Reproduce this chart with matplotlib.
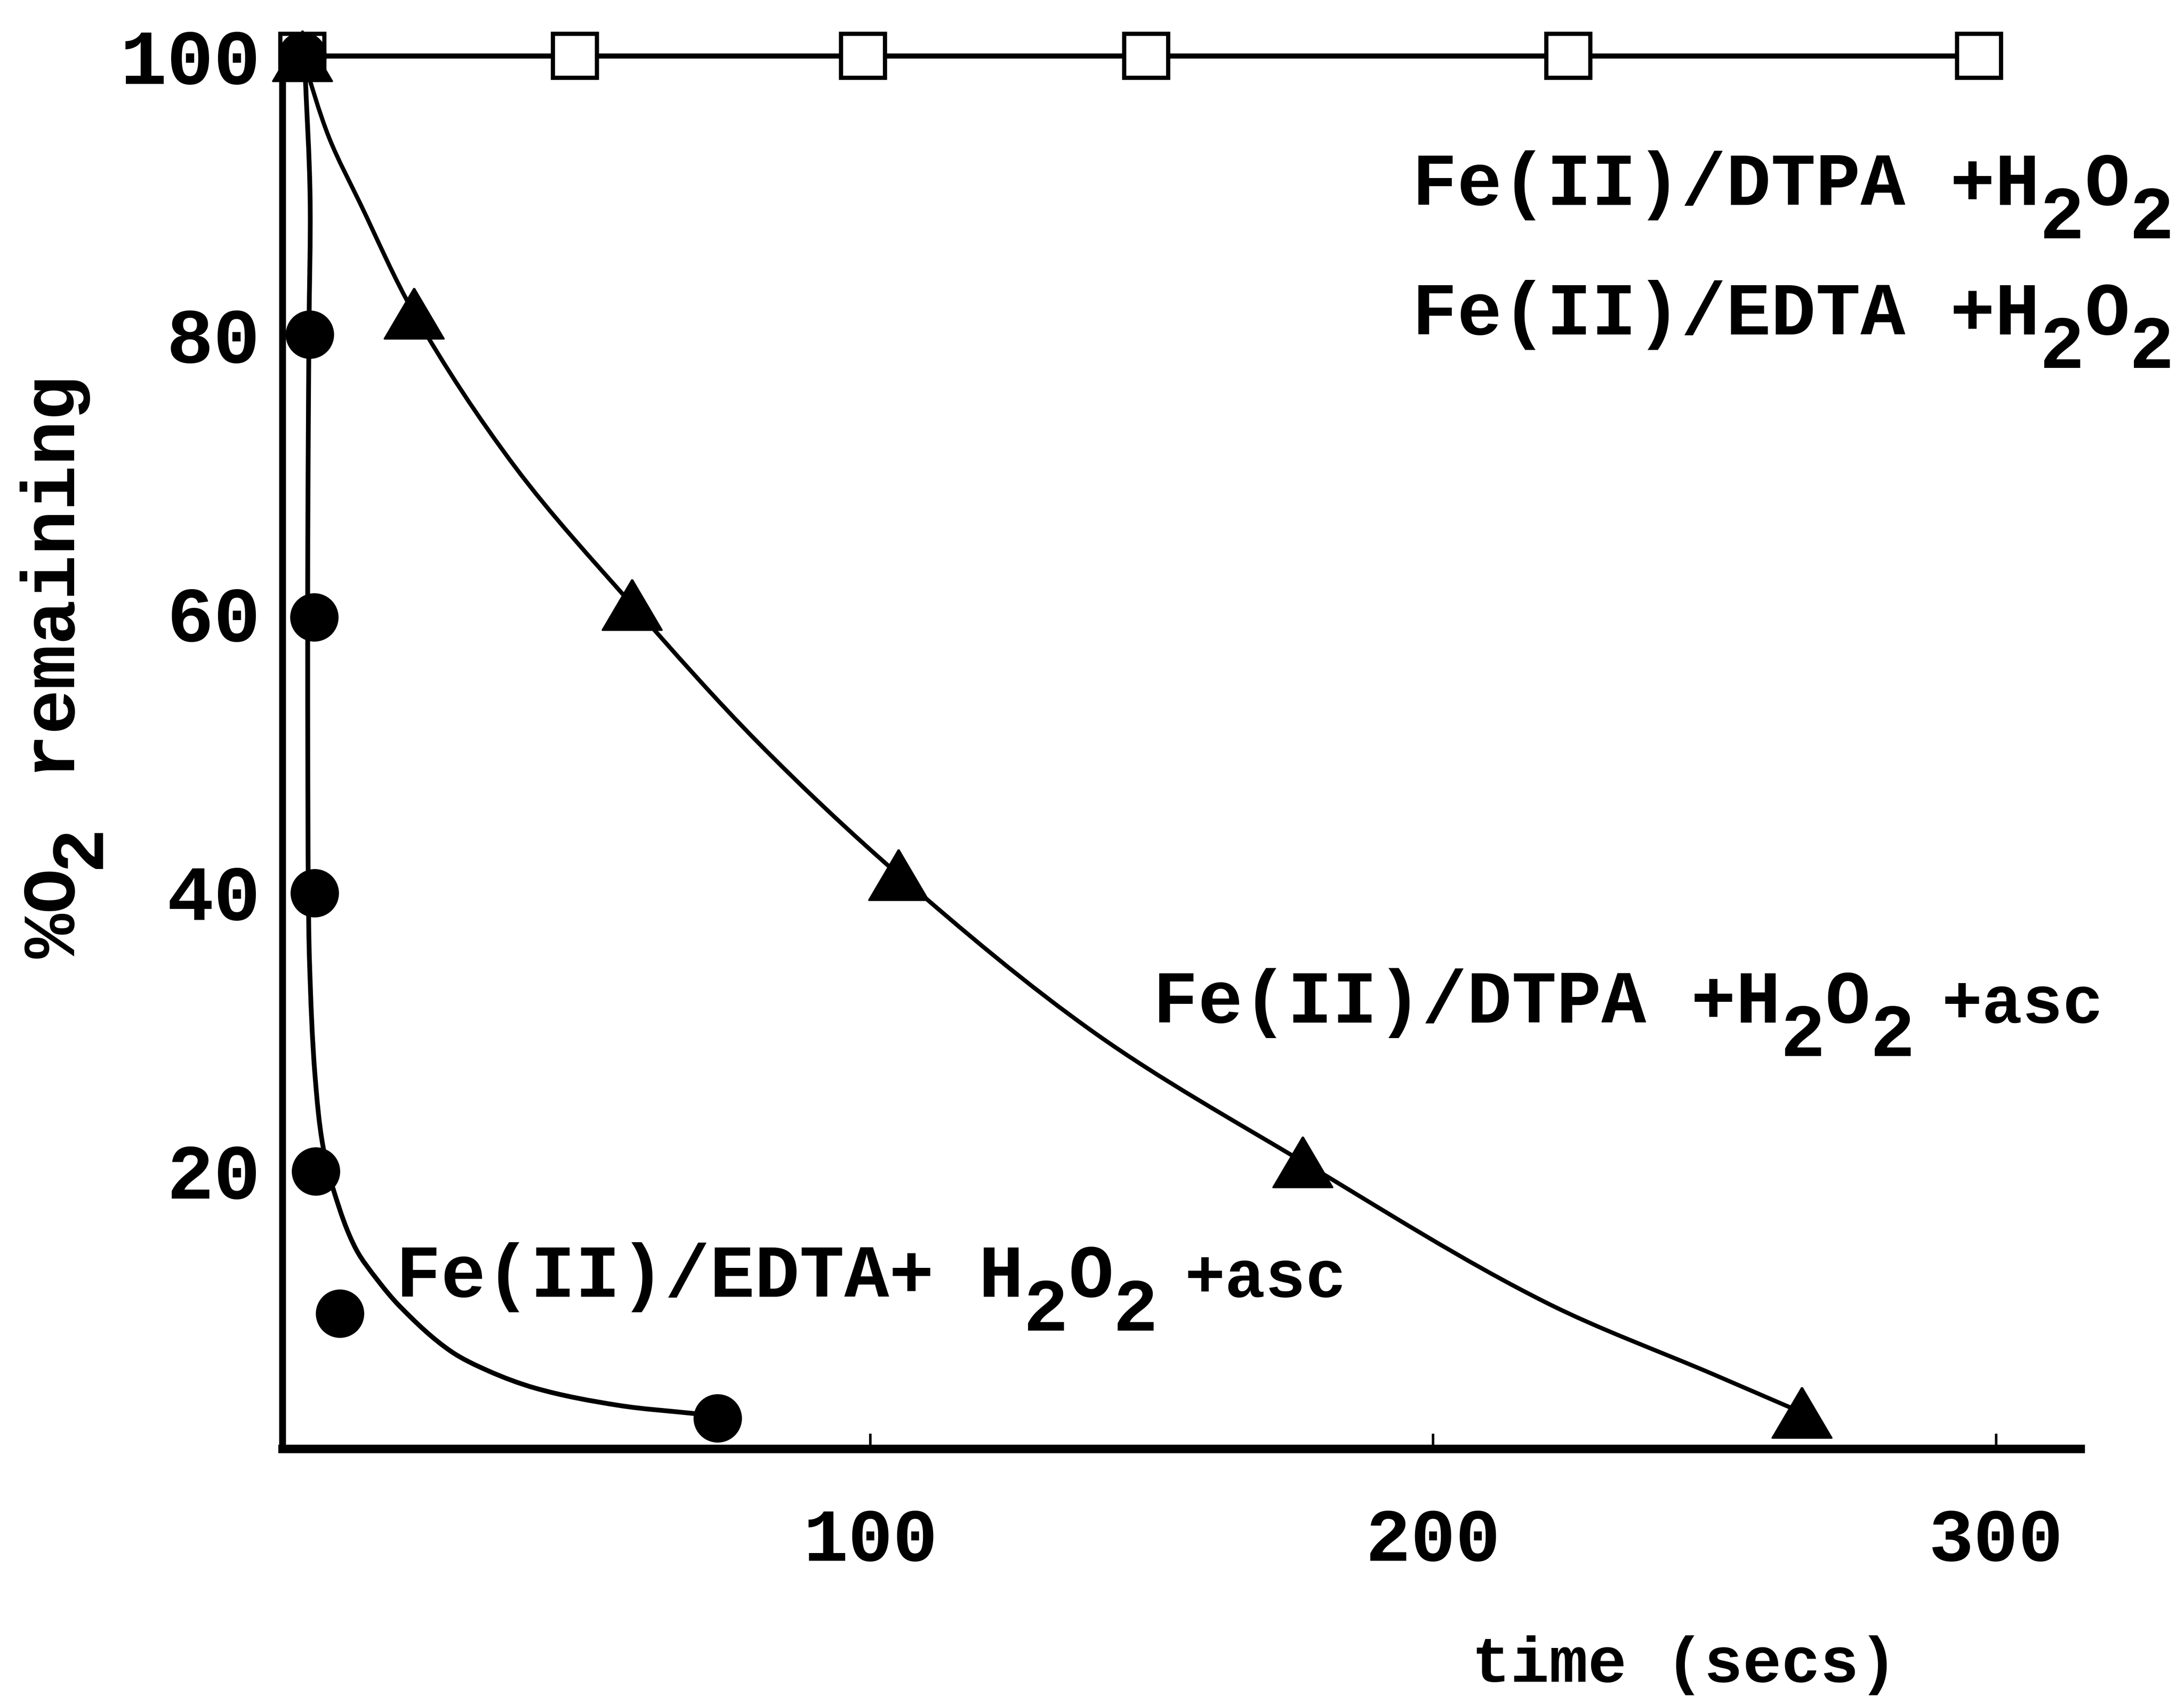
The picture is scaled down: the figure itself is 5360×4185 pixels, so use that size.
import numpy as np
import matplotlib
matplotlib.use('Agg')
import matplotlib.pyplot as plt
from matplotlib.path import Path
from matplotlib.patches import PathPatch

MONO = 'Liberation Mono'
plt.rcParams['font.family'] = MONO
plt.rcParams['font.weight'] = 'bold'

# ---- data (time in s, % O2 remaining) ----
# Fe(II)/DTPA + H2O2 and Fe(II)/EDTA + H2O2 (no O2 uptake, both on one trace)
ctrl_t = [-1, 47.5, 98.7, 149, 224, 297]
ctrl_o2 = [100, 100, 100, 100, 100, 100]

# Fe(II)/DTPA + H2O2 + asc
dtpa_t = [-1, 18.9, 57.6, 105, 176.8, 265.5]
dtpa_o2 = [100, 81.5, 60.6, 41.2, 20.6, 2.6]
# hand-fitted curve through the DTPA points
dtpa_fit_t = [-1, 3.8, 9.3, 18.9, 36.8, 57.6, 80, 105, 140, 176.8, 220, 250, 265.5]
dtpa_fit_o2 = [100, 94.1, 89.4, 81.5, 70.5, 60.6, 50.7, 41.2, 29.8, 20.6, 10.5, 5.3, 2.6]

# Fe(II)/EDTA + H2O2 + asc
edta_t = [-1, 0.3, 1.1, 1.2, 1.4, 5.7, 72.8]
edta_o2 = [100, 80.0, 59.7, 39.9, 19.9, 9.7, 2.2]
# hand-fitted curve through the EDTA points
edta_fit_t = [-0.5, 0.4, 0.2, 0.0, 0.0, 0.1, 0.3, 1.3, 2.7, 4.7, 8.6, 12.4, 16.4,
              25.4, 32, 40.4, 55.4, 68, 72.8]
edta_fit_o2 = [99, 90, 80, 65, 50, 40, 35, 26.7, 21.7, 18.4, 14.3, 12.1, 10.2,
               7.0, 5.6, 4.35, 3.1, 2.55, 2.35]

x_ticks = [100, 200, 300]
y_ticks = [20, 40, 60, 80, 100]

# label pieces: (text, baseline shift in em, size scale)
h2o2 = [("2", -0.45, 1), ("O", 0, 1), ("2", -0.45, 1)]
labels = [
    ((196.3, 89.3), [("Fe(II)/DTPA +H", 0, 1)] + h2o2),
    ((196.3, 80.0), [("Fe(II)/EDTA +H", 0, 1)] + h2o2),
    ((150.2, 30.6), [("Fe(II)/DTPA +H", 0, 1)] + h2o2 + [(" ", 0, 0.6), ("+asc", 0, 0.9)]),
    ((15.7, 10.9), [("Fe(II)/EDTA+ H", 0, 1)] + h2o2 + [(" ", 0, 0.6), ("+asc", 0, 0.9)]),
]


def spaced_text(ax, xy, pieces, size, coords='data', rotation=0):
    # monospace layout: every glyph advances 0.6 em
    adv = 0.0
    for s, dy, scale in pieces:
        fs = size * scale
        shift = dy * size
        off = (adv, shift) if rotation == 0 else (-shift, adv)
        ax.annotate(s, xy=xy, xycoords=coords, xytext=off, textcoords='offset points',
                    fontsize=fs, family=MONO, weight='bold', rotation=rotation,
                    rotation_mode='anchor', ha='left', va='baseline',
                    annotation_clip=False)
        adv += len(s) * 0.6 * fs


def smooth_curve(ax, xs, ys, **kw):
    # cubic bezier through the traced points, tangents averaged in screen space
    pts = ax.transData.transform(np.column_stack([xs, ys]))
    seg = np.diff(pts, axis=0)
    seg_len = np.linalg.norm(seg, axis=1)
    unit = seg / seg_len[:, None]
    d = np.empty_like(pts)
    d[0] = unit[0]
    d[-1] = unit[-1]
    d[1:-1] = unit[:-1] + unit[1:]
    d /= np.linalg.norm(d, axis=1)[:, None]
    verts, codes = [pts[0]], [Path.MOVETO]
    for i in range(len(pts) - 1):
        h = seg_len[i] / 3
        verts += [pts[i] + d[i] * h, pts[i + 1] - d[i + 1] * h, pts[i + 1]]
        codes += [Path.CURVE4] * 3
    verts = ax.transData.inverted().transform(np.array(verts))
    ax.add_patch(PathPatch(Path(verts, codes), fill=False, clip_on=False,
                           capstyle='round', joinstyle='round', **kw))


fig = plt.figure(figsize=(5360 / 300, 4185 / 300), dpi=300)
ax = fig.add_axes([0.12934, 0.15033, 0.82321, 0.81699])
ax.set_xlim(-4.5, 315)
ax.set_ylim(0, 100)

tri = [(0, 0.85), (-1, -0.85), (1, -0.85), (0, 0.85)]

ax.plot(ctrl_t, ctrl_o2, color='black', lw=3.0, clip_on=False, zorder=2)
ax.plot(ctrl_t, ctrl_o2, ls='none', marker='s', ms=26, mfc='white', mec='black',
        mew=2.5, clip_on=False, zorder=3)

smooth_curve(ax, dtpa_fit_t, dtpa_fit_o2, edgecolor='black', lw=2.5, zorder=2)
ax.plot(dtpa_t, dtpa_o2, ls='none', marker=tri, ms=35, color='black',
        clip_on=False, zorder=5)

smooth_curve(ax, edta_fit_t, edta_fit_o2, edgecolor='black', lw=2.8, zorder=2)
ax.plot(edta_t, edta_o2, ls='none', marker='o', ms=28.5, color='black', mew=0,
        clip_on=False, zorder=4)

ax.set_xticks(x_ticks)
ax.set_yticks(y_ticks)
ax.tick_params(axis='x', direction='in', length=9, width=1.5, pad=34, labelsize=44)
ax.tick_params(axis='y', length=0, pad=13, labelsize=46)

for side in ('top', 'right'):
    ax.spines[side].set_visible(False)
ax.spines['left'].set_linewidth(4)
ax.spines['bottom'].set_linewidth(5)

ax.set_xlabel('time (secs)', fontsize=38, fontweight='bold')
ax.xaxis.set_label_coords(0.78, -0.134)

spaced_text(ax, (-0.1157, 0.352), [("%O", 0, 1), ("2", -0.33, 1), (" remaining", 0, 1)],
            44, coords='axes fraction', rotation=90)

for xy, pieces in labels:
    spaced_text(ax, xy, pieces, 44)

fig.savefig('out.png', dpi=300)
